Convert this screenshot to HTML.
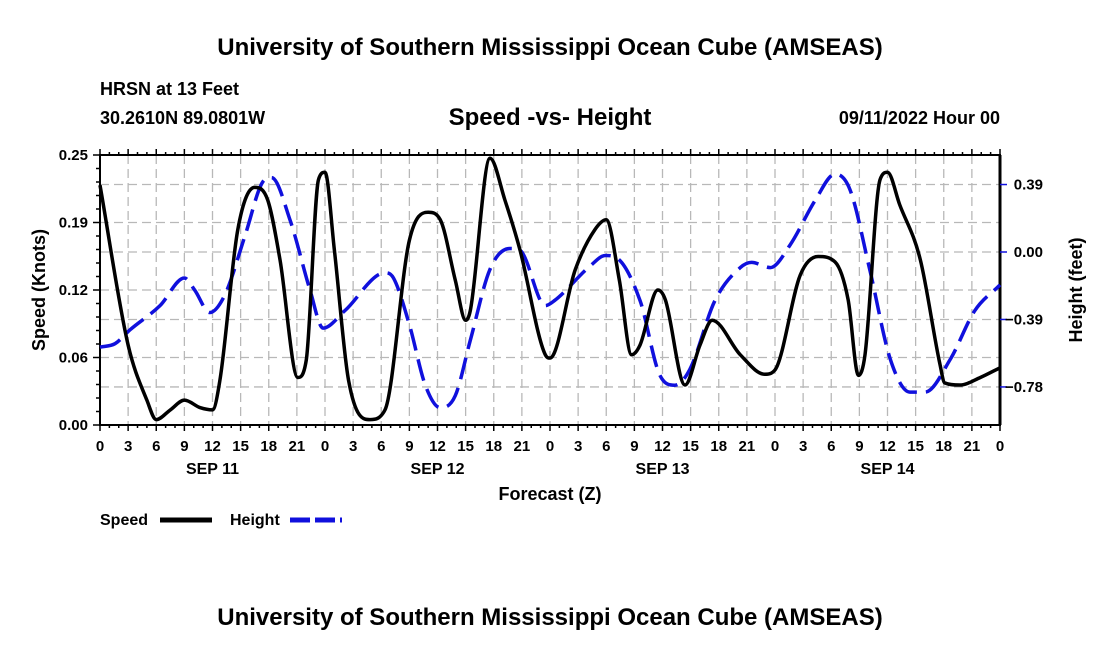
<!DOCTYPE html>
<html><head><meta charset="utf-8"><style>
body{margin:0;background:#fff}
svg text{font-family:"Liberation Sans",Arial,sans-serif;font-weight:bold;fill:#000}
</style></head><body>
<svg id="chart" width="1100" height="650" viewBox="0 0 1100 650">
<text x="550" y="55" font-size="24" text-anchor="middle">University of Southern Mississippi Ocean Cube (AMSEAS)</text>
<text x="100" y="95" font-size="18">HRSN at 13 Feet</text>
<text x="100" y="124" font-size="18">30.2610N  89.0801W</text>
<text x="550" y="125" font-size="24" text-anchor="middle">Speed -vs- Height</text>
<text x="1000" y="124" font-size="18" text-anchor="end">09/11/2022 Hour 00</text>
<g id="grid"></g>
<g id="axes"></g>
<g id="series"></g>
<text x="550" y="500" font-size="18" text-anchor="middle">Forecast (Z)</text>
<text transform="translate(45,290) rotate(-90)" font-size="18" text-anchor="middle">Speed (Knots)</text>
<text transform="translate(1082,290) rotate(-90)" font-size="18" text-anchor="middle">Height (feet)</text>
<g>
<text x="100" y="525" font-size="16">Speed</text>
<line x1="160" y1="520" x2="212" y2="520" stroke="#000" stroke-width="5"/>
<text x="230" y="525" font-size="16">Height</text>
<line x1="290" y1="520" x2="342" y2="520" stroke="#1010dd" stroke-width="5" stroke-dasharray="20 5"/>
</g>
<text x="550" y="625" font-size="24" text-anchor="middle">University of Southern Mississippi Ocean Cube (AMSEAS)</text>
</svg>
<script>
const speedHours=[0,3,5,6,7.5,9,10.7,12,12.8,14.7,16.5,17.9,19.2,21.1,22,23.3,24,25,26.5,28.8,30.4,33,35,36.3,37.9,39,39.5,41.6,43.2,44.8,47.5,48,50.7,52.8,54,55.4,56.7,57.6,59.5,60.3,62.4,64,65.3,68.3,70.9,72,74.7,76.6,78.4,79.8,80.9,81.6,83.2,84,85.3,87.5,89.6,90.1,91.7,93.9,96];
const speedValues=[0.222,0.074,0.023,0.005,0.014,0.023,0.016,0.014,0.042,0.181,0.220,0.208,0.153,0.044,0.060,0.227,0.234,0.162,0.042,0.005,0.014,0.171,0.197,0.190,0.134,0.097,0.106,0.247,0.208,0.162,0.065,0.062,0.144,0.181,0.190,0.134,0.065,0.074,0.125,0.116,0.037,0.074,0.097,0.065,0.047,0.051,0.139,0.156,0.151,0.116,0.046,0.065,0.227,0.234,0.204,0.153,0.056,0.039,0.037,0.044,0.053];
const heightHours=[0,1.6,3.2,6.4,9,10.1,11.7,13.3,15.5,17.3,18.3,20.3,22.4,23.8,26.1,30.4,31.3,33,34.7,36.3,37.9,39.5,41.6,43.7,44.8,47.5,48.5,52.3,53.9,55,57.6,59.7,61.3,62.9,65.6,68.3,69.5,71.5,73.6,76.3,78.4,80,82.1,84.3,86.4,88,90.7,93.3,96];
const heightValues=[-0.55,-0.53,-0.45,-0.31,-0.15,-0.22,-0.35,-0.25,0.10,0.40,0.43,0.18,-0.22,-0.44,-0.34,-0.12,-0.15,-0.42,-0.77,-0.90,-0.83,-0.51,-0.10,0.02,0.01,-0.31,-0.28,-0.08,-0.02,-0.03,-0.28,-0.71,-0.77,-0.68,-0.28,-0.09,-0.06,-0.09,0.04,0.30,0.45,0.36,-0.10,-0.62,-0.81,-0.81,-0.62,-0.34,-0.19];
const speedTicks=[0,0.0625,0.125,0.1875,0.25];
const speedTickLabels=["0.00","0.06","0.12","0.19","0.25"];
const heightTicks=[0.39,0,-0.39,-0.78];
const heightTickLabels=["0.39","0.00","\u22120.39","\u22120.78"];
const dateLabels=["SEP 11","SEP 12","SEP 13","SEP 14"];

const X0=100,X1=1000,Y0=425,Y1=155;
const xs=h=>X0+h*(X1-X0)/96;
const ys=v=>Y0-v*(Y0-Y1)/0.25;
const yh=f=>252-f*173;
const NS="http://www.w3.org/2000/svg";
function mk(tag,attrs,parent){const e=document.createElementNS(NS,tag);for(const k in attrs)e.setAttribute(k,attrs[k]);parent.appendChild(e);return e;}
const grid=document.getElementById('grid'),axes=document.getElementById('axes'),series=document.getElementById('series');

for(let h=3;h<96;h+=3){const l=mk('line',{x1:xs(h),x2:xs(h),y1:Y1,y2:Y0,stroke:'#b8b8b8','stroke-width':1.3,'stroke-dasharray':'9 5'},grid);

}
const hy=speedTicks.slice(1,4).map(ys).concat(heightTicks.map(yh));
hy.forEach(y=>{const l=mk('line',{x1:X0,x2:X1,y1:y,y2:y,stroke:'#b8b8b8','stroke-width':1.3,'stroke-dasharray':'9 5'},grid);

});

const frame=mk('rect',{x:X0,y:Y1,width:X1-X0,height:Y0-Y1,fill:'none',stroke:'#000','stroke-width':2},axes);


mk('line',{x1:X1,x2:X1,y1:Y1,y2:Y0,stroke:'#000','stroke-width':3},axes);
for(let h=0;h<=96;h++){const big=h%3===0;
mk('line',{x1:xs(h),x2:xs(h),y1:Y0,y2:Y0+(big?6:3),stroke:'#000','stroke-width':1.5},axes);
mk('line',{x1:xs(h),x2:xs(h),y1:Y1,y2:Y1-(big?6:3),stroke:'#000','stroke-width':1.5},axes);
if(big){const t=mk('text',{x:xs(h),y:Y0+26,'font-size':15,'text-anchor':'middle'},axes);t.textContent=String(h%24);

}}
dateLabels.forEach((d,i)=>{const t=mk('text',{x:xs(12+24*i),y:Y0+49,'font-size':16,'text-anchor':'middle'},axes);t.textContent=d;

});
for(let v=0;v<=0.25001;v+=0.0125){mk('line',{x1:X0,x2:X0-(Math.abs(v/0.0625-Math.round(v/0.0625))<1e-6?7:4),y1:ys(v),y2:ys(v),stroke:'#000','stroke-width':1.5},axes);}
speedTicks.forEach((v,i)=>{const t=mk('text',{x:X0-12,y:ys(v)+5,'font-size':15,'text-anchor':'end'},axes);t.textContent=speedTickLabels[i];

});
heightTicks.forEach((f,i)=>{mk('line',{x1:X1,x2:X1+7,y1:yh(f),y2:yh(f),stroke:'#1010dd','stroke-width':1.5},axes);
const t=mk('text',{x:1043,y:yh(f)+5,'font-size':15,'text-anchor':'end'},axes);t.textContent=heightTickLabels[i];

});

function pathFor(hs,vs,fy){const n=Math.min(hs.length,vs.length);const p=[];for(let i=0;i<n;i++)p.push([xs(hs[i]),fy(vs[i])]);
// monotone cubic (Fritsch-Carlson) to avoid overshoot
const dx=[],sl=[];for(let i=0;i<n-1;i++){dx.push(p[i+1][0]-p[i][0]);sl.push((p[i+1][1]-p[i][1])/dx[i]);}
const m=[sl[0]];for(let i=1;i<n-1;i++){m.push(sl[i-1]*sl[i]<=0?0:(sl[i-1]+sl[i])/2);}m.push(sl[n-2]);
for(let i=0;i<n-1;i++){if(sl[i]===0){m[i]=0;m[i+1]=0;continue;}const a=m[i]/sl[i],b=m[i+1]/sl[i],s=a*a+b*b;if(s>9){const t=3/Math.sqrt(s);m[i]=t*a*sl[i];m[i+1]=t*b*sl[i];}}
let d='M'+p[0][0]+','+p[0][1];
for(let i=0;i<n-1;i++){const h=dx[i]/3;d+=' C'+(p[i][0]+h)+','+(p[i][1]+m[i]*h)+' '+(p[i+1][0]-h)+','+(p[i+1][1]-m[i+1]*h)+' '+p[i+1][0]+','+p[i+1][1];}
return d;}
const hp=mk('path',{d:pathFor(heightHours,heightValues,yh),fill:'none',stroke:'#1010dd','stroke-width':3.5,'stroke-dasharray':'22 9'},series);


const sp=mk('path',{d:pathFor(speedHours,speedValues,ys),fill:'none',stroke:'#000','stroke-width':3.5},series);


</script>
</body></html>
